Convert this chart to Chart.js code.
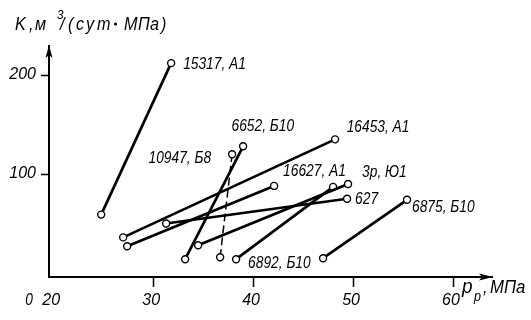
<!DOCTYPE html>
<html><head><meta charset="utf-8">
<script src="https://cdn.jsdelivr.net/npm/chart.js@4.4.1/dist/chart.umd.min.js"></script>
<style>html,body{margin:0;padding:0;background:#fff;}#wrap{width:531px;height:320px;}</style>
</head><body><div id="wrap"><canvas id="c" width="531" height="320"></canvas></div>
<script>
// ---- data ----
const wellLabels = ['15317, А1', '16453, А1', '16627, А1', '627', '6652, Б10', '10947, Б8', '3р, Ю1', '6892, Б10', '6875, Б10'];
const pressureStart = [24.8, 27.0, 27.4, 31.3, 33.2, 36.7, 34.5, 38.3, 47.0];
const pressureEnd   = [31.8, 48.2, 42.1, 49.4, 39.0, 37.9, 49.5, 48.0, 55.4];
const kStart = [59, 36, 27, 50, 14, 16, 28, 14, 15];
const kEnd   = [212, 135, 88, 75, 128, 120, 90, 87, 74];
const xTicks = [20, 30, 40, 50, 60];
const yTicks = [100, 200];
const dashedWell = '10947, Б8';

const FAM = '"Liberation Sans Narrow", "Liberation Sans", "DejaVu Sans", sans-serif';
const FSIZE = 17;
const SQUEEZE = 0.81;

const datasets = wellLabels.map((name, i) => ({
  label: name,
  data: [{x: pressureStart[i], y: kStart[i]}, {x: pressureEnd[i], y: kEnd[i]}],
  showLine: true,
  borderColor: '#000',
  borderWidth: name === dashedWell ? 1.5 : 2.7,
  borderDash: name === dashedWell ? [8, 4] : [],
  pointRadius: 3.5,
  pointBackgroundColor: '#fff',
  pointBorderColor: '#000',
  pointBorderWidth: 1.4,
  tension: 0
}));

// draws condensed italic text; returns advance width
function condText(ctx, text, x, y, size, align, squeeze) {
  const sq = squeeze || SQUEEZE;
  ctx.save();
  ctx.font = `italic ${size}px ${FAM}`;
  ctx.textAlign = align || 'left';
  ctx.translate(x, y);
  ctx.scale(sq, 1);
  ctx.fillText(text, 0, 0);
  const w = ctx.measureText(text).width * sq;
  ctx.restore();
  return w;
}

// label placement: [use end point?, dx, dy, align]
const labelPlacement = [
  [true, 12, 1, 'left'],
  [true, 11.6, -12, 'left'],
  [true, 9, -14.5, 'left'],
  [true, 8, 0.5, 'left'],
  [true, -11.6, -19.7, 'left'],
  [true, -21, 3.7, 'right'],
  [true, 14, -12, 'left'],
  [false, 12, 3.7, 'left'],
  [true, 5, 7, 'left']
];

const labelPlugin = {
  id: 'wellLabels',
  afterDatasetsDraw(chart) {
    const ctx = chart.ctx, xs = chart.scales.x, ys = chart.scales.y;
    ctx.save();
    ctx.fillStyle = '#000';
    ctx.textBaseline = 'middle';
    wellLabels.forEach((name, i) => {
      const [useEnd, dx, dy, align] = labelPlacement[i];
      const px = xs.getPixelForValue(useEnd ? pressureEnd[i] : pressureStart[i]);
      const py = ys.getPixelForValue(useEnd ? kEnd[i] : kStart[i]);
      condText(ctx, name, px + dx, py + dy, FSIZE, align);
    });
    ctx.restore();
  }
};

const axisDecor = {
  id: 'axisDecor',
  afterDraw(chart) {
    const ctx = chart.ctx, a = chart.chartArea;
    ctx.save();
    ctx.fillStyle = '#000';
    // y arrow
    ctx.beginPath();
    ctx.moveTo(a.left, a.top - 1);
    ctx.lineTo(a.left + 3.5, a.top + 12);
    ctx.lineTo(a.left, a.top + 9);
    ctx.lineTo(a.left - 3.5, a.top + 12);
    ctx.closePath(); ctx.fill();
    // x arrow
    ctx.beginPath();
    ctx.moveTo(a.right + 1, a.bottom);
    ctx.lineTo(a.right - 13, a.bottom - 3.5);
    ctx.lineTo(a.right - 10, a.bottom);
    ctx.lineTo(a.right - 13, a.bottom + 3.5);
    ctx.closePath(); ctx.fill();
    // y title, glyph by glyph (wide letter spacing as in the drawing)
    ctx.textBaseline = 'alphabetic';
    const yb = 30, ts = 18, tq = 0.9;
    const title = [['K', 15], [',', 29], ['м', 35], ['/', 60], ['(', 68], ['с', 76], ['у', 86], ['т', 97], ['М', 124], ['П', 138], ['а', 150], [')', 161]];
    title.forEach(([g, gx]) => condText(ctx, g, gx, yb, ts, 'left', tq));
    condText(ctx, '3', 57, yb - 11, 13, 'left', 0.9);
    ctx.beginPath(); ctx.arc(115.5, yb - 6, 1.6, 0, Math.PI * 2); ctx.fill();
    // x title
    const yb2 = 293;
    condText(ctx, 'р', 462, yb2, 20, 'left', 0.95);
    condText(ctx, 'р', 474, yb2 + 8, 14, 'left', 0.9);
    condText(ctx, ',', 483, yb2, 18, 'left', 0.9);
    condText(ctx, 'МПа', 490, yb2, 18, 'left', 0.93);
    // origin label
    ctx.textBaseline = 'middle';
    condText(ctx, '0', 29, 300, FSIZE, 'center');
    ctx.restore();
  }
};

new Chart(document.getElementById('c'), {
  type: 'scatter',
  data: { datasets },
  options: {
    responsive: false,
    animation: false,
    layout: { padding: { top: 46, right: 39, left: 0, bottom: 0 } },
    plugins: { legend: { display: false }, tooltip: { enabled: false }, title: { display: false } },
    scales: {
      x: {
        type: 'linear', min: 19.58, max: 63.9,
        afterBuildTicks: s => { s.ticks = xTicks.map(v => ({ value: v })); },
        afterFit: s => { s.height = 43; },
        border: { display: true, color: '#000', width: 2 },
        grid: { drawOnChartArea: false, drawTicks: true, tickLength: 10, tickWidth: 1.5,
          tickColor: c => (c.tick && c.tick.value === 20) ? 'rgba(0,0,0,0)' : '#000' },
        ticks: { color: '#000', font: { family: FAM, size: 16, style: 'italic' }, padding: 4,
          maxRotation: 0, autoSkip: false, labelOffset: -2, callback: v => String(v) }
      },
      y: {
        type: 'linear', min: -4, max: 229.3,
        afterBuildTicks: s => { s.ticks = yTicks.map(v => ({ value: v })); },
        afterFit: s => { s.width = 49; },
        border: { display: true, color: '#000', width: 2 },
        grid: { drawOnChartArea: false, drawTicks: true, tickLength: 8, tickWidth: 1.5, tickColor: '#000' },
        ticks: { color: '#000', font: { family: FAM, size: 16, style: 'italic' }, padding: 5,
          callback: v => String(v) }
      }
    }
  },
  plugins: [labelPlugin, axisDecor]
});
</script></body></html>
